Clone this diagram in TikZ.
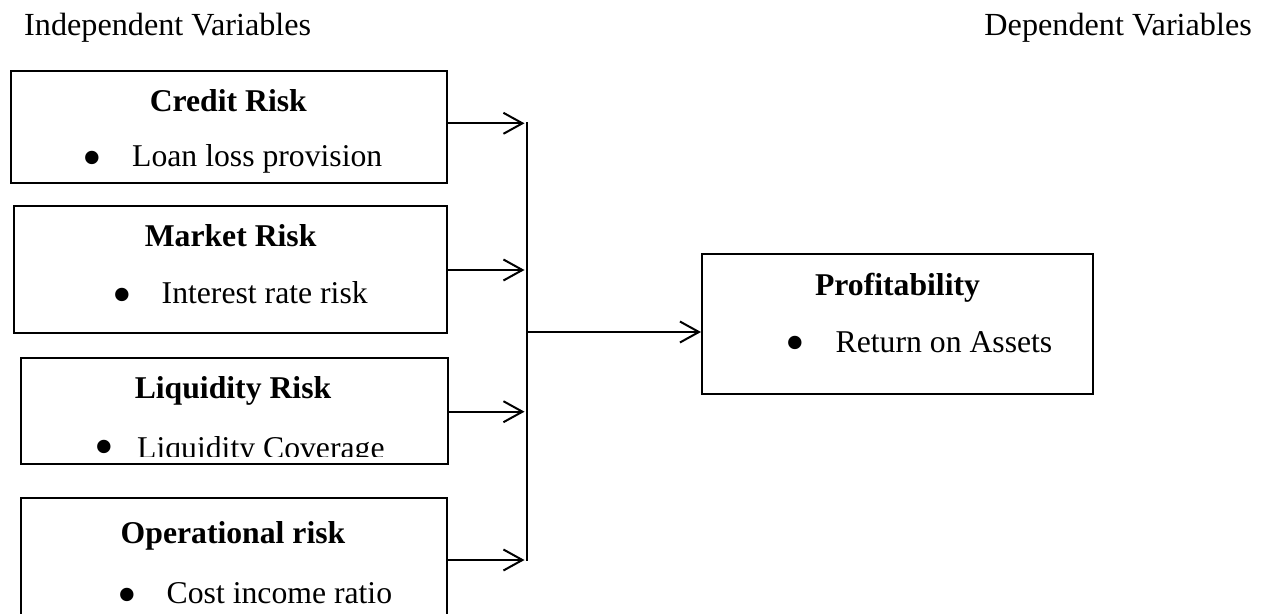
\documentclass[tikz,border=0pt]{standalone}
\usepackage{fontspec}
\setmainfont{Liberation Serif}
\usetikzlibrary{arrows.meta}
\begin{document}
\begin{tikzpicture}[x=1pt,y=-1pt,
  box/.style={draw, line width=2pt, inner sep=0pt},
  txt/.style={inner sep=0pt, anchor=base, font=\fontsize{31.7}{38}\selectfont},
  hdg/.style={inner sep=0pt, font=\fontsize{32.2}{38}\selectfont},
  ttl/.style={inner sep=0pt, anchor=base, font=\fontsize{31.7}{38}\selectfont\bfseries},
  itm/.style={txt, anchor=base west},
  bul/.style={inner sep=0pt, anchor=center, font=\fontsize{56}{58}\selectfont},
  arr/.style={line width=2pt, -{Straight Barb[length=19pt,width=21pt]}},
  bus/.style={line width=2pt}]
\fill[white] (0,0) rectangle (1263,613);
\useasboundingbox (0,0) rectangle (1263,613);
\clip (0,0) rectangle (1263,613);

% headings
\node[hdg, anchor=base west] (iv) at (24,35.5) {Independent Variables};
\node[hdg, anchor=base east] (dv) at (1252,35.5) {Dependent Variables};

% boxes
\node[box, minimum width=436pt, minimum height=112.3pt] (credit) at (228.7,126.85) {};
\node[box, minimum width=432.6pt, minimum height=126.7pt] (market) at (230.3,269.35) {};
\node[box, minimum width=426.6pt, minimum height=106pt] (liq) at (234.3,411) {};
\node[box, minimum width=425.6pt, minimum height=132pt] (oper) at (233.8,564) {};
\node[box, minimum width=391.3pt, minimum height=140pt] (prof) at (897.65,324) {};

% titles
\node[ttl] (creditT) at (228.3,111.7) {Credit Risk};
\node[ttl] (marketT) at (230.6,246.7) {Market Risk};
\node[ttl] (liqT) at (233,398.3) {Liquidity Risk};
\node[ttl] (operT) at (233,543.3) {Operational risk};
\node[ttl] (profT) at (897.5,295) {Profitability};

% bullet items
\node[bul] (creditB) at (92,164) {•};
\node[itm] (creditI) at (132,166.7) {Loan loss provision};
\node[bul] (marketB) at (122,300.6) {•};
\node[itm] (marketI) at (161.5,303.3) {Interest rate risk};
\node[bul] (liqB) at (104.4,452.7) {•};
\begin{scope}
\clip (22,359) rectangle (446,456);
\node[itm] (liqI) at (137,458.5) {Liquidity Coverage};
\end{scope}
\node[bul] (operB) at (127,600.6) {•};
\node[itm] (operI) at (166.5,603.3) {Cost income ratio};
\node[bul] (profB) at (795.7,349.3) {•};
\node[itm] (profI) at (835.5,352) {Return on Assets};

% connectors
\coordinate (t1) at (524.5,123.3);
\coordinate (t2) at (524.5,270);
\coordinate (t3) at (524.5,411.7);
\coordinate (t4) at (524.5,560);
\coordinate (btop) at (527,122.3);
\coordinate (bbot) at (527,561);
\coordinate (j) at (527,332);

\draw[arr] (credit.east |- t1) -- (t1);
\draw[arr] (market.east |- t2) -- (t2);
\draw[arr] (liq.east |- t3) -- (t3);
\draw[arr] (oper.east |- t4) -- (t4);
\draw[bus] (btop) -- (bbot);
\draw[arr] (j) -- (j -| prof.west);
\end{tikzpicture}
\end{document}
